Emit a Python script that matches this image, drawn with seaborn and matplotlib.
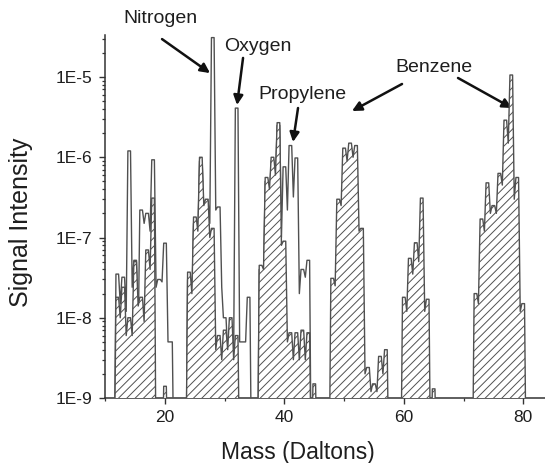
import numpy as np
import pandas as pd
import matplotlib
matplotlib.use("Agg")
import matplotlib.pyplot as plt
import seaborn as sns
from matplotlib.ticker import LogLocator, FixedLocator, FuncFormatter, NullFormatter

# ---------------- data ----------------
# Hatched spectrum: integer mass, peak intensity, valley intensity half a mass unit after the peak
sample_mass = [12, 13, 14, 15, 16, 17, 18, 20,
               24, 25, 26, 27, 28, 29, 30, 31, 32,
               36, 37, 38, 39, 40, 41, 42, 43, 44, 45,
               48, 49, 50, 51, 52, 53, 54, 55, 56, 57,
               60, 61, 62, 63, 64, 65,
               72, 73, 74, 75, 76, 77, 78, 79, 80]
sample_peak = [1.8e-8, 2.4e-8, 1.0e-8, 5.0e-8, 1.8e-8, 7.0e-8, 3.1e-7, 1.4e-9,
               3.7e-8, 1.8e-7, 1.0e-6, 3.0e-7, 1.3e-7, 6.0e-9, 7.0e-9, 1.0e-8, 6.0e-9,
               4.5e-8, 5.6e-7, 1.0e-6, 2.7e-6, 9.0e-8, 6.5e-9, 6.5e-9, 7.0e-9, 6.5e-9, 1.5e-9,
               3.1e-8, 3.0e-7, 1.3e-6, 1.5e-6, 1.4e-6, 1.3e-7, 2.4e-9, 1.5e-9, 3.3e-9, 4.0e-9,
               1.8e-8, 5.5e-8, 8.6e-8, 3.1e-7, 1.7e-8, 1.3e-9,
               2.0e-8, 1.7e-7, 4.8e-7, 2.5e-7, 6.3e-7, 2.9e-6, 1.06e-5, 5.6e-7, 1.5e-8]
sample_valley = [1.0e-8, 6.0e-9, 6.0e-9, 1.4e-8, 9.0e-9, 4.0e-8, None, None,
                 2.0e-8, 1.2e-7, 2.5e-7, 1.0e-7, 4.0e-9, 3.0e-9, 4.0e-9, 3.0e-9, None,
                 4.0e-8, 4.0e-7, 6.0e-7, 8.0e-8, 5.0e-9, 3.0e-9, 3.0e-9, 3.0e-9, None, None,
                 2.5e-8, 2.5e-7, 9.0e-7, 1.0e-6, 1.2e-7, 2.0e-9, 1.2e-9, 1.2e-9, 2.0e-9, None,
                 1.2e-8, 3.5e-8, 5.0e-8, 1.2e-8, None, None,
                 1.5e-8, 1.2e-7, 2.0e-7, 2.0e-7, 4.5e-7, 1.5e-6, 3.0e-7, 1.2e-8, None]

# Open (unhatched) spectrum
gas_mass = [12, 13, 14, 15, 16, 17, 18, 19, 20, 21,
            24, 25, 26, 27, 28, 29, 30, 31, 32, 33, 34,
            36, 37, 38, 39, 40, 41, 42, 43, 44]
gas_peak = [3.5e-8, 3.2e-8, 1.2e-6, 5.2e-8, 2.2e-7, 2.0e-7, 9.3e-7, 3.0e-8, 8.5e-8, 5.0e-9,
            3.0e-8, 1.5e-7, 9.0e-7, 2.8e-7, 3.1e-5, 2.4e-7, 1.0e-8, 5.0e-9, 4.1e-6, 5.0e-9, 1.8e-8,
            4.0e-8, 5.0e-7, 9.0e-7, 2.5e-6, 7.6e-7, 1.4e-6, 9.8e-7, 4.0e-8, 5.2e-8]
gas_valley = [1.5e-8, 1.2e-8, 2.4e-8, 5.0e-9, 1.5e-7, 1.2e-7, 2.4e-8, 2.8e-8, 5.0e-9, None,
              1.5e-8, 1.0e-7, 2.0e-7, 1.5e-7, 2.2e-7, 2.4e-8, 3.6e-9, 4.0e-9, 5.0e-9, 5.0e-9, None,
              3.0e-8, 3.0e-7, 5.0e-7, 1.0e-7, 2.2e-7, 3.2e-7, 2.0e-8, 3.2e-8, None]

x_ticks = [20, 40, 60, 80]
y_decades = [1e-9, 1e-8, 1e-7, 1e-6, 1e-5]

FLOOR = 1e-10
HALF_TOP = 0.22


def build_trace(masses, peaks, valleys):
    xs, ys = [], []
    prev = None
    for m, p, v in zip(masses, peaks, valleys):
        if prev is None or m - prev > 1:
            xs.append(m - 0.5)
            ys.append(FLOOR)
        xs += [m - HALF_TOP, m + HALF_TOP, m + 0.5]
        ys += [p, p, v if v is not None else FLOOR]
        prev = m
    return pd.DataFrame({"mass": xs, "signal": ys})


gas_df = build_trace(gas_mass, gas_peak, gas_valley)
sample_df = build_trace(sample_mass, sample_peak, sample_valley)

# ---------------- figure ----------------
sns.set_theme(style="ticks")
plt.rcParams["font.family"] = ["Liberation Sans", "DejaVu Sans"]
plt.rcParams["hatch.linewidth"] = 0.7

LINE = "#505050"
INK = "#1e1e1e"

fig = plt.figure(figsize=(5.45, 4.63), dpi=100)
ax = fig.add_axes([0.1927, 0.1404, 0.8073, 0.784])
ax.set_yscale("log")

# open spectrum (white fill)
ax.fill_between(gas_df["mass"], gas_df["signal"], FLOOR, facecolor="white",
                edgecolor="none", zorder=2)
sns.lineplot(data=gas_df, x="mass", y="signal", sort=False, estimator=None,
             color=LINE, lw=1.0, ax=ax, zorder=3)

# hatched spectrum on top
ax.fill_between(sample_df["mass"], sample_df["signal"], FLOOR, facecolor="white",
                edgecolor=LINE, hatch="////", linewidth=0, zorder=4)
sns.lineplot(data=sample_df, x="mass", y="signal", sort=False, estimator=None,
             color=LINE, lw=1.0, ax=ax, zorder=5)

ax.set_xlim(9.95, 83.65)
ax.set_ylim(1e-9, 3.34e-5)

# ticks
ax.xaxis.set_major_locator(FixedLocator(x_ticks))
ax.xaxis.set_minor_locator(FixedLocator([10, 30, 50, 70]))
ax.yaxis.set_major_locator(FixedLocator(y_decades))
ax.yaxis.set_minor_locator(LogLocator(base=10, subs=np.arange(2, 10)))
ax.yaxis.set_major_formatter(FuncFormatter(lambda v, p: f"1E{int(round(np.log10(v)))}"))
ax.yaxis.set_minor_formatter(NullFormatter())

ax.tick_params(axis="both", which="major", direction="out", length=4.5, width=1.0,
               color="#333333", labelsize=12.5, labelcolor=INK, pad=4.5)
ax.tick_params(axis="both", which="minor", direction="out", length=2.5, width=0.9,
               color="#333333")

sns.despine(ax=ax)
for s in ("left", "bottom"):
    ax.spines[s].set_color("#333333")
    ax.spines[s].set_linewidth(1.1)

ax.set_xlabel("Mass (Daltons)", fontsize=16.5, color=INK)
ax.set_ylabel("Signal Intensity", fontsize=18, color=INK)
ax.xaxis.set_label_coords(0.4386, -0.118)
ax.yaxis.set_label_coords(-0.1636, 0.485)

# annotations
arrow_kw = dict(arrowstyle="-|>", color="#111111", lw=1.8, mutation_scale=14,
                shrinkA=0, shrinkB=0)
tkw = dict(fontsize=14, color=INK, ha="center", va="center", annotation_clip=False)

ax.annotate("Nitrogen", xy=(19.25, 5.3e-5), **tkw)
ax.annotate("", xy=(27.54, 1.12e-5), xytext=(19.5, 2.97e-5), arrowprops=arrow_kw,
            annotation_clip=False)
ax.annotate("Oxygen", xy=(35.6, 2.43e-5), **tkw)
ax.annotate("", xy=(32.06, 4.48e-6), xytext=(33.07, 1.73e-5), arrowprops=arrow_kw)
ax.annotate("Propylene", xy=(43.1, 6.14e-6), **tkw)
ax.annotate("", xy=(41.44, 1.55e-6), xytext=(42.28, 4.11e-6), arrowprops=arrow_kw)
ax.annotate("Benzene", xy=(64.97, 1.3e-5), **tkw)
ax.annotate("", xy=(51.32, 3.77e-6), xytext=(59.7, 8.19e-6), arrowprops=arrow_kw)
ax.annotate("", xy=(78.12, 4.11e-6), xytext=(69.08, 9.73e-6), arrowprops=arrow_kw)

fig.savefig("out.png", dpi=100)
